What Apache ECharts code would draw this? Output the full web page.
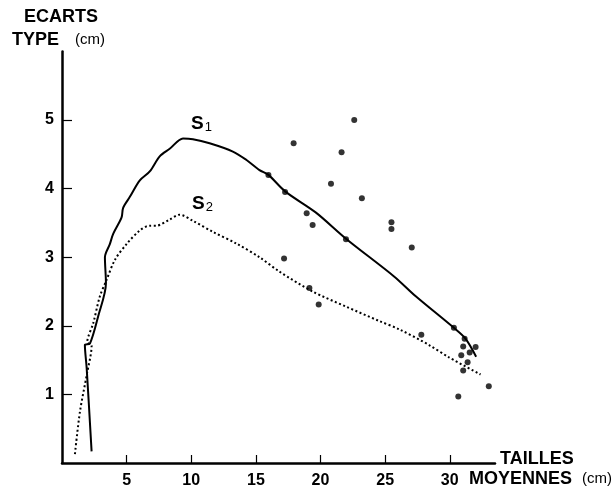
<!DOCTYPE html>
<html>
<head>
<meta charset="utf-8">
<script src="https://cdn.jsdelivr.net/npm/echarts@6/dist/echarts.min.js"></script>
<style>
html,body{margin:0;padding:0;background:#fff;}
#chart{width:616px;height:489px;}
</style>
</head>
<body>
<div id="chart"></div>
<script>
// Curve S1 (solid) : [taille moyenne, écart type]
var s1Points = [[2.29,0.17],[1.91,1.38],[1.77,1.72],[2.16,1.74],[2.80,2.14],[3.40,2.62],[3.32,3.0],[3.70,3.19],[3.96,3.34],[4.61,3.58],[4.73,3.72],[5.25,3.88],[6.02,4.12],[6.79,4.25],[7.56,4.47],[8.33,4.58],[9.36,4.73],[10.13,4.72],[11.42,4.66],[13.22,4.54],[14.25,4.42],[15.28,4.27],[15.97,4.20],[17.26,3.96],[19.65,3.65],[21.97,3.27],[25.69,2.72],[27.37,2.43],[30.32,1.97],[31.23,1.81],[32.04,1.55]];
// Curve S2 (dotted)
var s2Points = [[1.0,0.13],[1.39,0.75],[1.91,1.28],[2.29,1.71],[1.95,1.76],[2.42,2.04],[2.93,2.43],[3.45,2.67],[4.09,2.96],[4.99,3.19],[6.02,3.39],[6.79,3.46],[7.31,3.46],[8.33,3.55],[9.1,3.62],[10.13,3.53],[11.67,3.37],[13.48,3.2],[15.28,3.0],[16.82,2.79],[19.39,2.50],[21.97,2.28],[24.54,2.07],[26.08,1.95],[28.4,1.72],[29.94,1.54],[32.38,1.29]];
// Observed points
var obsPoints = [[22.61,5.0],[17.92,4.66],[21.63,4.53],[15.97,4.20],[20.81,4.07],[17.26,3.95],[23.2,3.86],[18.93,3.64],[19.39,3.47],[25.49,3.51],[25.49,3.41],[21.97,3.26],[27.06,3.14],[17.18,2.98],[19.14,2.55],[19.86,2.31],[27.80,1.87],[30.32,1.97],[31.15,1.81],[31.04,1.70],[32.0,1.69],[31.54,1.61],[30.89,1.57],[31.38,1.47],[31.04,1.35],[33.02,1.12],[30.66,0.97]];
var xTicks = [5,10,15,20,25,30];
var yTicks = [1,2,3,4,5];
var xMax = 33.5, yMax = 6;

var chart = echarts.init(document.getElementById('chart'), null, {renderer:'canvas'});
var FONT = 'Liberation Sans';
var axisLine = {show:true, lineStyle:{color:'#000', width:2.5}};
chart.setOption({
  backgroundColor:'#fff',
  animation:false,
  grid:{left:62, right:121, top:51.4, bottom:20, containLabel:false},
  xAxis:{
    type:'value', min:0, max:xMax, interval:5,
    axisLine:axisLine,
    axisTick:{show:true, inside:true, length:8, customValues:xTicks, lineStyle:{color:'#000', width:1.2}},
    axisLabel:{show:true, customValues:xTicks, margin:10, color:'#000', fontFamily:FONT, fontSize:16, fontWeight:'bold'},
    splitLine:{show:false}
  },
  yAxis:{
    type:'value', min:0, max:yMax, interval:1,
    axisLine:axisLine,
    axisTick:{show:true, inside:true, length:10, customValues:yTicks, lineStyle:{color:'#000', width:1.2}},
    axisLabel:{show:true, customValues:yTicks, margin:8, color:'#000', fontFamily:FONT, fontSize:16, fontWeight:'bold'},
    splitLine:{show:false}
  },
  series:[
    {type:'line', data:s1Points, showSymbol:false, smooth:0.3, clip:false,
     lineStyle:{color:'#000', width:2}},
    {type:'line', data:s2Points, showSymbol:false, smooth:0.3, clip:false,
     lineStyle:{color:'#000', width:2, type:[2,2.5]}},
    {type:'scatter', data:obsPoints, symbol:'circle', symbolSize:6, clip:false,
     itemStyle:{color:'#000'}}
  ],
  graphic:[
    {type:'text', left:24, top:8, style:{text:'ECARTS', fill:'#000', font:'bold 18px "Liberation Sans"'}},
    {type:'text', left:12, top:31, style:{text:'TYPE', fill:'#000', font:'bold 18px "Liberation Sans"'}},
    {type:'text', left:75, top:32, style:{text:'(cm)', fill:'#000', font:'15px "Liberation Sans"'}},
    {type:'text', left:500, top:450, style:{text:'TAILLES', fill:'#000', font:'bold 18px "Liberation Sans"'}},
    {type:'text', left:469, top:470, style:{text:'MOYENNES', fill:'#000', font:'bold 18px "Liberation Sans"'}},
    {type:'text', left:582, top:471, style:{text:'(cm)', fill:'#000', font:'15px "Liberation Sans"'}},
    {type:'text', left:191, top:114, style:{
      text:'{a|S}{b|1}', fill:'#000',
      rich:{a:{fontFamily:FONT, fontSize:19, fontWeight:'bold', fill:'#000'}, b:{fontFamily:FONT, fontSize:13, padding:[8,0,0,1], fill:'#000'}}}},
    {type:'text', left:192, top:194, style:{
      text:'{a|S}{b|2}', fill:'#000',
      rich:{a:{fontFamily:FONT, fontSize:19, fontWeight:'bold', fill:'#000'}, b:{fontFamily:FONT, fontSize:13, padding:[8,0,0,1], fill:'#000'}}}}
  ]
});
</script>
</body>
</html>
